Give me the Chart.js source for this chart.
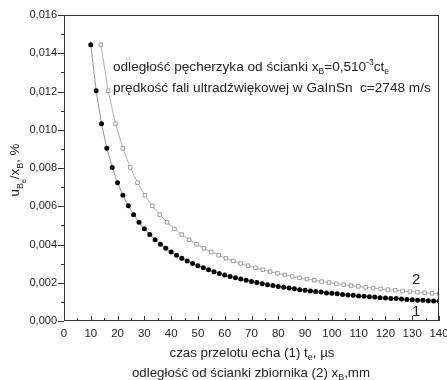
<!DOCTYPE html>
<html lang="pl">
<head>
    <meta charset="UTF-8">
    <title>u/x vs czas przelotu</title>
    <script src="https://cdn.jsdelivr.net/npm/chart.js@4.4.0/dist/chart.umd.min.js"></script>
    <style>
        body { margin: 0; padding: 0; background: #fff; }
        #wrap { width: 447px; height: 380px; }
    </style>
</head>
<body>
<div id="wrap"><canvas id="chart" width="447" height="380"></canvas></div>
<script>
// series 1: czas przelotu echa t_e [us]
var tEcho = [10,12,14,16,18,20,22,24,26,28,30,32,34,36,38,40,42,44,46,48,50,52,54,56,58,60,
    62,64,66,68,70,72,74,76,78,80,82,84,86,88,90,92,94,96,98,100,102,104,106,108,110,
    112,114,116,118,120,122,124,126,128,130,132,134,136,138,140];
var ratio1 = [0.01445,0.01204,0.01032,0.00903,0.00803,0.00723,0.00657,0.00602,0.00556,0.00516,
    0.00482,0.00452,0.00425,0.00401,0.00380,0.00361,0.00344,0.00328,0.00314,0.00301,
    0.00289,0.00278,0.00268,0.00258,0.00249,0.00241,0.00233,0.00226,0.00219,0.00213,
    0.00206,0.00201,0.00195,0.00190,0.00185,0.00181,0.00176,0.00172,0.00168,0.00164,
    0.00161,0.00157,0.00154,0.00151,0.00147,0.00145,0.00142,0.00139,0.00136,0.00134,
    0.00131,0.00129,0.00127,0.00125,0.00122,0.00120,0.00118,0.00117,0.00115,0.00113,
    0.00111,0.00109,0.00108,0.00106,0.00105,0.00103];

// series 2: odleglosc od scianki x_B [mm]
var xDist = [13.74,16.49,19.24,21.98,24.73,27.48,30.23,32.98,35.72,38.47,41.22,43.97,46.72,
    49.46,52.21,54.96,57.71,60.46,63.20,65.95,68.70,71.45,74.20,76.94,79.69,82.44,85.19,
    87.94,90.68,93.43,96.18,98.93,101.68,104.42,107.17,109.92,112.67,115.42,118.16,120.91,
    123.66,126.41,129.16,131.90,134.65,137.40,140.15];
var ratio2 = [0.01445,0.01204,0.01032,0.00903,0.00803,0.00723,0.00657,0.00602,0.00556,0.00516,
    0.00482,0.00452,0.00425,0.00401,0.00380,0.00361,0.00344,0.00328,0.00314,0.00301,
    0.00289,0.00278,0.00268,0.00258,0.00249,0.00241,0.00233,0.00226,0.00219,0.00213,
    0.00206,0.00201,0.00195,0.00190,0.00185,0.00181,0.00176,0.00172,0.00168,0.00164,
    0.00161,0.00157,0.00154,0.00151,0.00147,0.00145,0.00142];

var FONT = '"Liberation Sans", Arial, sans-serif';

function pairs(xs, ys) {
    return xs.map(function (x, i) { return { x: x, y: ys[i] }; });
}

// text with sub/superscripts: parts = [text, size, dy]
function rich(ctx, parts, x, y, align) {
    var w = 0;
    parts.forEach(function (p) {
        ctx.font = p[1] + 'px ' + FONT;
        w += ctx.measureText(p[0]).width;
    });
    var cx = align === 'center' ? x - w / 2 : x;
    ctx.textAlign = 'left';
    ctx.textBaseline = 'alphabetic';
    parts.forEach(function (p) {
        ctx.font = p[1] + 'px ' + FONT;
        ctx.fillText(p[0], cx, y + (p[2] || 0));
        cx += ctx.measureText(p[0]).width;
    });
}

var decor = {
    id: 'decor',
    afterDraw: function (chart) {
        var ctx = chart.ctx, a = chart.chartArea;
        var xs = chart.scales.x, ys = chart.scales.y;
        ctx.save();
        ctx.strokeStyle = '#333';
        ctx.lineWidth = 1;
        ctx.strokeRect(a.left + 0.5, a.top + 0.5, a.right - a.left - 1, a.bottom - a.top - 1);

        ctx.beginPath();
        for (var v = 0; v <= 140; v += 5) {
            var px = Math.round(xs.getPixelForValue(v)) + 0.5;
            var len = v % 10 === 0 ? 5 : 3;
            ctx.moveTo(px, a.bottom);
            ctx.lineTo(px, a.bottom - len);
        }
        for (var k = 0; k <= 16; k++) {
            var py = Math.round(ys.getPixelForValue(k / 1000)) + 0.5;
            var l2 = k % 2 === 0 ? 6 : 3;
            ctx.moveTo(a.left, py);
            ctx.lineTo(a.left - l2, py);
        }
        ctx.stroke();

        ctx.fillStyle = '#222';
        rich(ctx, [['odległość pęcherzyka od ścianki x', 13.6], ['B', 8.5, 3], ['=0,510', 13.6],
            ['-3', 8.5, -6], ['ct', 13.6], ['e', 8.5, 3]], 113, 71, 'left');
        rich(ctx, [['prędkość fali ultradźwiękowej w GaInSn  c=2748 m/s', 13.6]], 113, 92, 'left');

        rich(ctx, [['2', 15]], 412, 284, 'left');
        rich(ctx, [['1', 15]], 412, 316, 'left');

        rich(ctx, [['czas przelotu echa (1) t', 13.3], ['e', 9, 3], [', µs', 13.3]], 252, 357, 'center');
        rich(ctx, [['odległość od ścianki zbiornika (2) x', 13.3], ['B', 9, 3], [',mm', 13.3]], 251, 377, 'center');

        ctx.translate(19, 170);
        ctx.rotate(-Math.PI / 2);
        rich(ctx, [['u', 13.3], ['B', 9, 4], ['e', 7, 7], ['/x', 13.3], ['B', 9, 4], [', %', 13.3]], 0, 0, 'center');
        ctx.restore();
    }
};

new Chart(document.getElementById('chart'), {
    type: 'scatter',
    data: {
        datasets: [{
            label: '1',
            data: pairs(tEcho, ratio1),
            showLine: true,
            borderColor: '#777',
            borderWidth: 0.8,
            pointStyle: 'circle',
            pointRadius: 2.5,
            pointBackgroundColor: '#000',
            pointBorderColor: '#000',
            pointBorderWidth: 0
        }, {
            label: '2',
            data: pairs(xDist, ratio2),
            showLine: true,
            borderColor: '#999',
            borderWidth: 0.8,
            pointStyle: 'rect',
            pointRadius: 2.5,
            pointBackgroundColor: '#fff',
            pointBorderColor: '#888',
            pointBorderWidth: 0.8
        }]
    },
    options: {
        responsive: false,
        animation: false,
        layout: { padding: { top: 15, right: 8, left: 0, bottom: 0 } },
        plugins: { legend: { display: false }, tooltip: { enabled: false } },
        scales: {
            x: {
                type: 'linear',
                min: 0, max: 140,
                grid: { display: false, drawTicks: false },
                border: { display: false },
                ticks: { stepSize: 10, padding: 6, color: '#222', font: { size: 11.5, family: FONT }, maxRotation: 0 },
                afterFit: function (s) { s.height = 59; s.paddingLeft = 0; s.paddingRight = 0; }
            },
            y: {
                min: 0, max: 0.016,
                grid: { display: false, drawTicks: false },
                border: { display: false },
                ticks: {
                    stepSize: 0.002, padding: 7, color: '#222', font: { size: 11, family: FONT },
                    callback: function (v) { return v.toFixed(3).replace('.', ','); }
                },
                afterFit: function (s) { s.width = 64; }
            }
        }
    },
    plugins: [decor]
});
</script>
</body>
</html>
